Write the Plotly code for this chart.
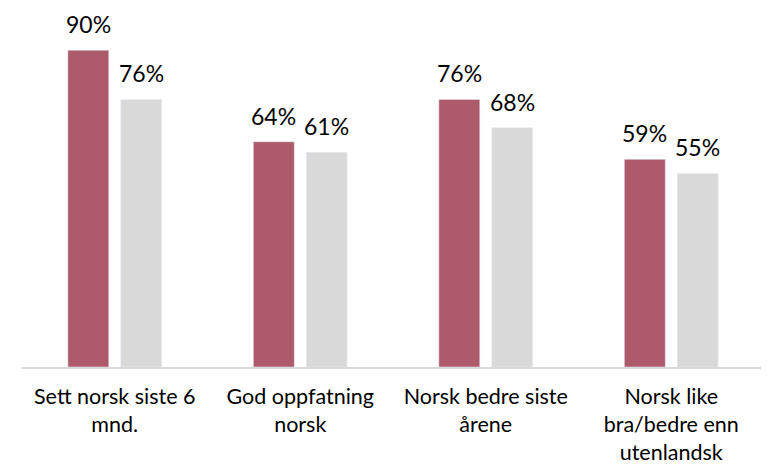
import plotly.graph_objects as go

categories = ["Sett norsk siste 6<br>mnd.", "God oppfatning<br>norsk", "Norsk bedre siste<br>årene", "Norsk like<br>bra/bedre enn<br>utenlandsk"]
series_a = [90, 64, 76, 59]
series_b = [76, 61, 68, 55]
labels_a = [f"{v}%" for v in series_a]
labels_b = [f"{v}%" for v in series_b]

FONT = "Lato"
COL_A = "#AD5A6B"
COL_B = "#D9D9D9"
fig = go.Figure()
fig.add_trace(go.Bar(x=categories, y=series_a, marker_color=COL_A, hoverinfo="skip"))
fig.add_trace(go.Bar(x=categories, y=series_b, marker_color=COL_B, hoverinfo="skip"))

annotations = []
for cat, va, la, vb, lb in zip(categories, series_a, labels_a, series_b, labels_b):
    for v, lab, dx in ((va, la, -26.5), (vb, lb, 26.5)):
        annotations.append(dict(x=cat, y=v, text=lab, showarrow=False, xanchor="center",
                                yanchor="bottom", xshift=dx, yshift=10,
                                font=dict(size=23, family=FONT, color="#000000")))

fig.update_layout(
    width=761, height=458,
    margin=dict(l=14, r=5, t=7, b=99),
    plot_bgcolor="white", paper_bgcolor="white",
    showlegend=False,
    barmode="group", bargap=0.43, bargroupgap=0.226,
    font=dict(family=FONT, size=21, color="#000000"),
    annotations=annotations,
)
fig.update_xaxes(showline=True, linecolor="#D9D9D9", linewidth=2, ticks="", automargin=False,
                 ticklabelstandoff=9,
                 tickfont=dict(size=21.5, family=FONT, color="#000000"))
fig.update_yaxes(range=[0, 100], visible=False, showgrid=False, automargin=False)
fig.write_html("out.html")
